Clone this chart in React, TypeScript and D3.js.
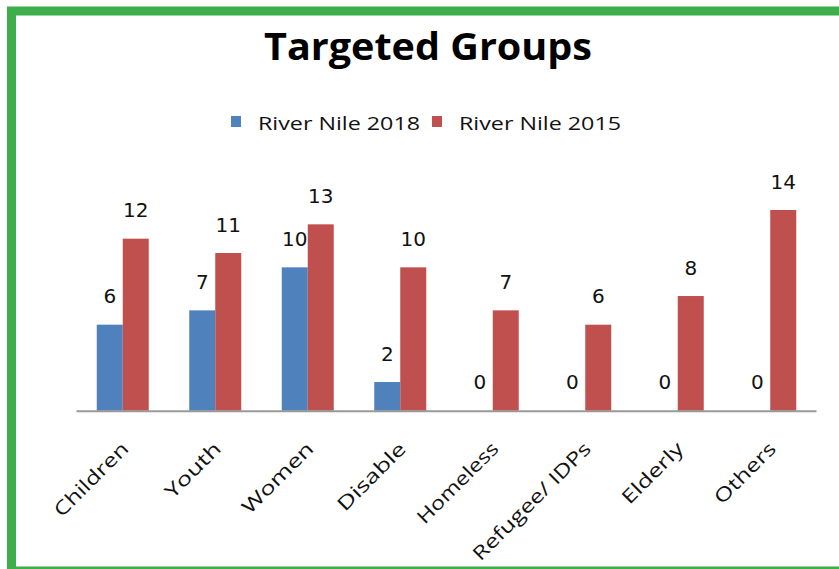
import React from "react";
import * as d3 from "d3";

const categories = ["Children", "Youth", "Women", "Disable", "Homeless", "Refugee/ IDPs", "Elderly", "Others"];
const seriesNames = ["River Nile 2018", "River Nile 2015"];
const values2018 = [6, 7, 10, 2, 0, 0, 0, 0];
const values2015 = [12, 11, 13, 10, 7, 6, 8, 14];
const labelLengths = [96, 70, 92, 88, 106, 158, 78, 78];

const COLORS = ["#4F81BD", "#C0504D"];
const W = 839;
const H = 569;

export default function App() {
  const x = d3.scaleBand<string>().domain(categories).range([76.5, 816.5]).padding(0);
  const barW = 26;
  const xs = d3.scaleBand<string>().domain(seriesNames).range([-barW, barW]).padding(0);
  const y = d3.scaleLinear().domain([0, 14]).range([410.7, 210]);
  const data = [values2018, values2015];
  const numFont = "'DejaVu Sans', Verdana, sans-serif";
  const txtFont = "'Open Sans', 'Noto Sans', sans-serif";

  return (
    <svg width={W} height={H} style={{ position: "absolute", left: 0, top: 0, background: "#fff" }}>
      <rect x={0} y={0} width={W} height={H} fill="#fff" />
      <rect x={11.5} y={11} width={845} height={560} fill="none" stroke="#3DAE49" strokeWidth={9} />
      <text x={428} y={60} textAnchor="middle" fontFamily={txtFont} fontWeight={700} fontSize={38}
        textLength={328} lengthAdjust="spacingAndGlyphs" fill="#000">Targeted Groups</text>
      {seriesNames.map((s, i) => {
        const lx = i === 0 ? 231 : 432;
        return (
          <g key={s}>
            <rect x={lx} y={116} width={10} height={11} fill={COLORS[i]} />
            <text x={lx + 27} y={130} fontFamily={txtFont} fontSize={19} fill="#111"
              textLength={162} lengthAdjust="spacingAndGlyphs">{s}</text>
          </g>
        );
      })}
      {categories.map((c, ci) => {
        const cx = (x(c) as number) + x.bandwidth() / 2;
        return (
          <g key={c}>
            {seriesNames.map((s, si) => {
              const v = data[si][ci];
              const bx = cx + (xs(s) as number);
              return (
                <g key={s}>
                  {v > 0 && (
                    <rect x={bx} y={y(v)} width={xs.bandwidth()} height={y(0) - y(v)} fill={COLORS[si]} />
                  )}
                  <text x={bx + xs.bandwidth() / 2} y={y(v) - 21.5} textAnchor="middle"
                    fontFamily={numFont} fontSize={20} fill="#111">{v}</text>
                </g>
              );
            })}
            <text transform={`translate(${cx + 7},450) rotate(-45)`} textAnchor="end"
              fontFamily={txtFont} fontSize={19} fill="#111"
              textLength={labelLengths[ci]} lengthAdjust="spacingAndGlyphs">{c}</text>
          </g>
        );
      })}
      <line x1={76.5} x2={816.5} y1={y(0) + 0.5} y2={y(0) + 0.5} stroke="#999" strokeWidth={2} />
    </svg>
  );
}
